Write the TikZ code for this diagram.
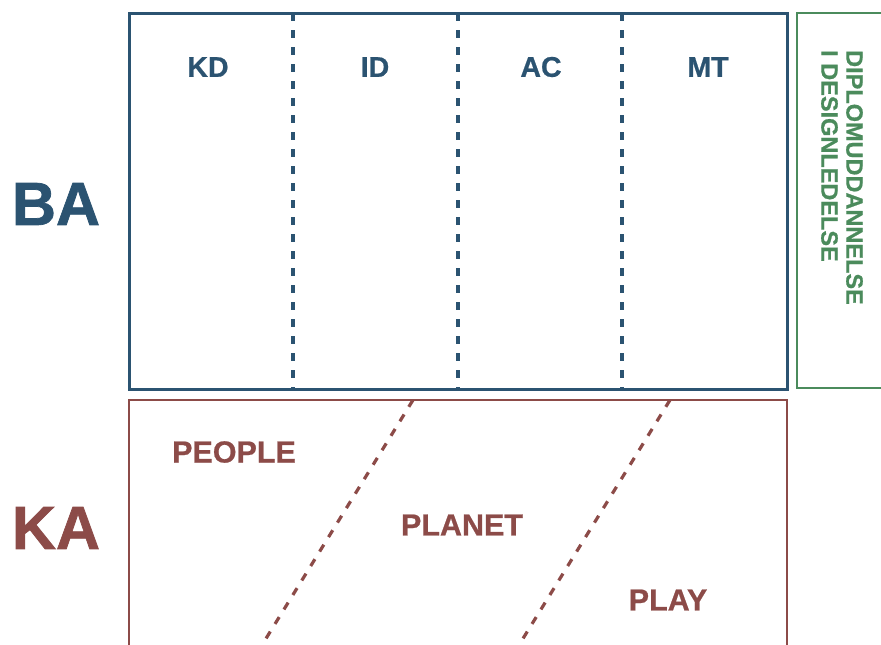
\documentclass[tikz,border=0pt]{standalone}
\usepackage{fontspec}
\setmainfont{Liberation Sans}
\newfontfamily\heavyfont{Liberation Sans Bold}[FakeBold=1.2]
\newfontfamily\labelfont{Liberation Sans Bold}[FakeBold=0.7]
\definecolor{baBlue}{HTML}{2B5371}
\definecolor{kaRed}{HTML}{8C4B48}
\definecolor{dipGreen}{HTML}{4B8B5C}
\begin{document}
\begin{tikzpicture}[x=1pt, y=-1pt,
  big/.style = {font=\fontsize{61}{61}\selectfont\heavyfont},
  col/.style = {text=baBlue, font=\fontsize{28.5}{28.5}\selectfont\labelfont},
  area/.style = {text=kaRed, font=\fontsize{30.5}{30.5}\selectfont\labelfont},
  sep/.style = {dash pattern=on 8pt off 9pt, line width=3.2pt}]
\useasboundingbox (0,0) rectangle (881,645);
\clip (0,0) rectangle (881,645);
% BA
\draw[baBlue, line width=3pt] (129,13) rectangle (787,389);
\foreach \x in {293,458,622}
  \draw[baBlue, sep] (\x,13) -- (\x,389);
\node[big, text=baBlue] (ba) at (56,204) {BA};
\node[col] (kd) at (208,67) {KD};
\node[col] (id) at (375,67) {ID};
\node[col] (ac) at (541,67) {AC};
\node[col] (mt) at (708,67) {MT};
% KA
\draw[kaRed, line width=2.8pt] (129,660) -- (129,400) -- (787,400) -- (787,660);
\draw[kaRed, sep] (413,400) -- (254,658);
\draw[kaRed, sep] (670,400) -- (511,658);
\node[big, text=kaRed] (ka) at (56,528) {KA};
\node[area] (people) at (234,452) {PEOPLE};
\node[area] (planet) at (462,525) {PLANET};
\node[area] (play) at (668,600) {PLAY};
% diplom
\draw[dipGreen, line width=2.8pt] (890,13) -- (797,13) -- (797,388) -- (890,388);
\node[text=dipGreen, rotate=-90, anchor=north west, inner sep=0pt, align=left,
  font=\fontsize{23.5}{25}\selectfont\labelfont] (dip) at (863,50)
  {DIPLOMUDDANNELSE\\I DESIGNLEDELSE};
\end{tikzpicture}
\end{document}
